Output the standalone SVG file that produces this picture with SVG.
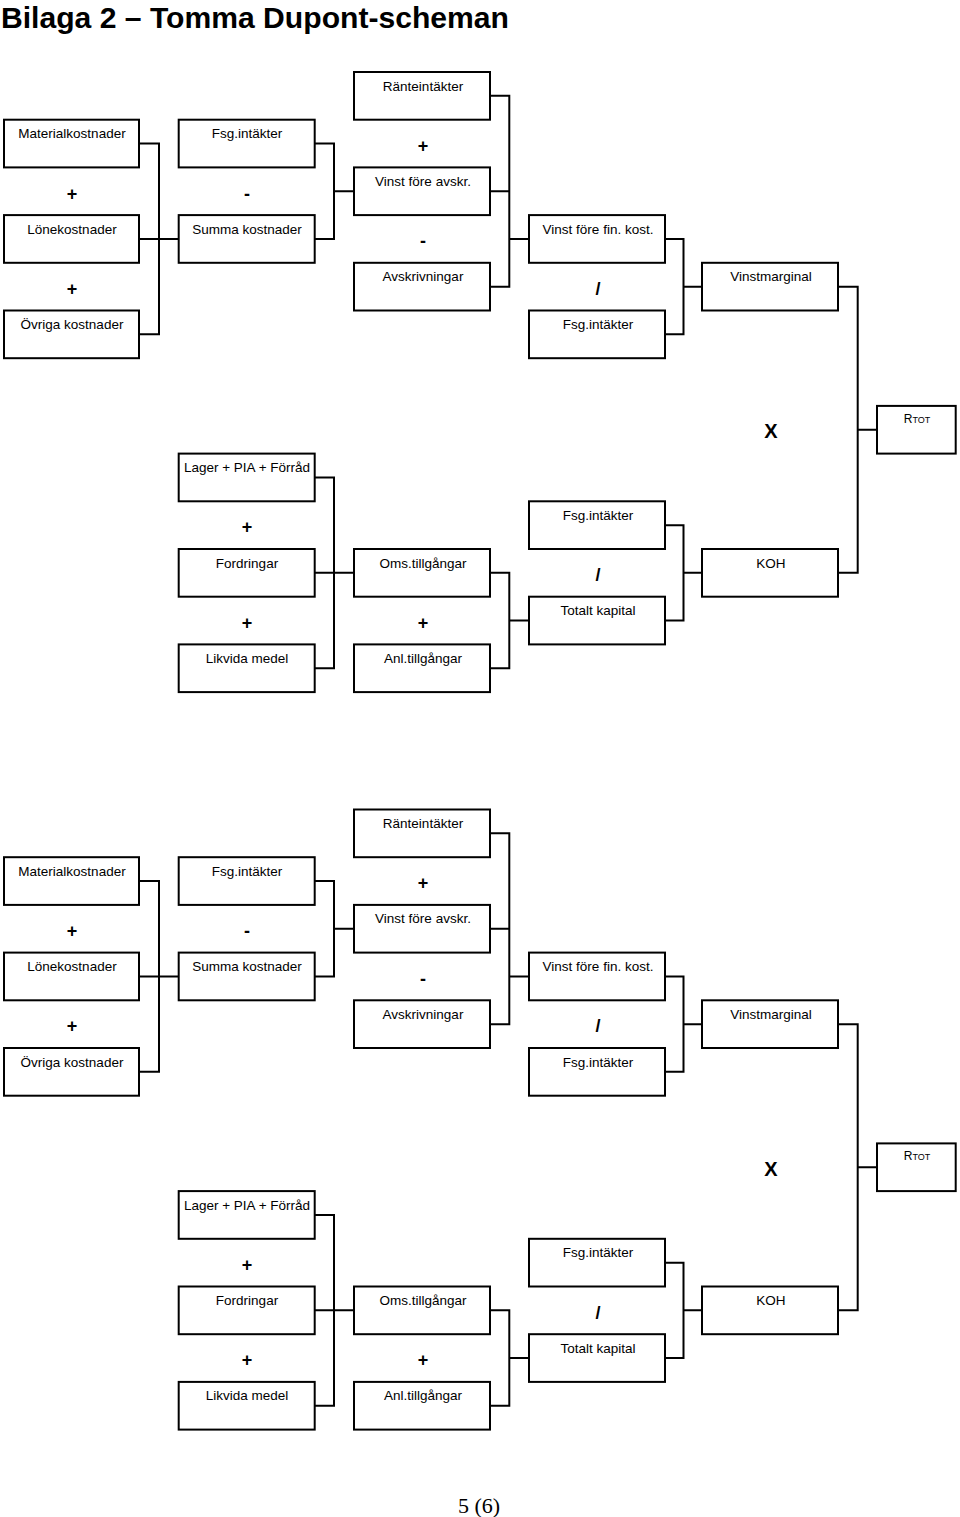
<svg xmlns="http://www.w3.org/2000/svg" width="960" height="1517" viewBox="0 0 960 1517">
<style>
.bx{fill:#fff;stroke:#000;stroke-width:2}
.cn{fill:none;stroke:#000;stroke-width:2}
.lb{font-family:"Liberation Sans",Arial,sans-serif;font-size:13.5px;fill:#000;text-anchor:middle}
.op{font-family:"Liberation Sans",Arial,sans-serif;font-size:18px;font-weight:bold;fill:#000;text-anchor:middle}
.ox{font-family:"Liberation Sans",Arial,sans-serif;font-size:20px;font-weight:bold;fill:#000;text-anchor:middle}
.sm{font-size:9px}
.rb{font-size:12px}
</style>
<rect width="960" height="1517" fill="#fff"/>
<text x="1" y="28" font-family="'Liberation Sans',Arial,sans-serif" font-size="29" font-weight="bold" textLength="508" lengthAdjust="spacingAndGlyphs">Bilaga 2 – Tomma Dupont-scheman</text>

<g id="sec1">
<g id="connectors1">
<path class="cn" d="M139,143.55 H159 V334.35 H139 M139,238.95 H179"/>
<path class="cn" d="M314.7,143.55 H334 V238.95 H314.7 M334,191.25 H354"/>
<path class="cn" d="M490,95.85 H509.3 V286.65 H490 M490,191.25 H509.3 M509.3,238.95 H529"/>
<path class="cn" d="M665,238.95 H683.5 V334.35 H665 M683.5,286.65 H702"/>
<path class="cn" d="M838,286.65 H857.7 V572.85 H838 M857.7,429.75 H877"/>
<path class="cn" d="M314.7,477.45 H334 V668.25 H314.7 M314.7,572.85 H354"/>
<path class="cn" d="M490,572.85 H509.3 V668.25 H490 M509.3,620.55 H529"/>
<path class="cn" d="M665,525.15 H683.5 V620.55 H665 M683.5,572.85 H702"/>
</g>
<g id="materialkostnader"><rect class="bx" x="4" y="119.7" width="135" height="47.7"/><text class="lb" x="72" y="138.2">Materialkostnader</text></g>
<g id="lonekostnader"><rect class="bx" x="4" y="215.1" width="135" height="47.7"/><text class="lb" x="72" y="233.6">Lönekostnader</text></g>
<g id="ovriga"><rect class="bx" x="4" y="310.5" width="135" height="47.7"/><text class="lb" x="72" y="329">Övriga kostnader</text></g>
<g id="fsg1"><rect class="bx" x="178.7" y="119.7" width="136" height="47.7"/><text class="lb" x="247" y="138.2">Fsg.intäkter</text></g>
<g id="summa"><rect class="bx" x="178.7" y="215.1" width="136" height="47.7"/><text class="lb" x="247" y="233.6">Summa kostnader</text></g>
<g id="rante"><rect class="bx" x="354" y="72" width="136" height="47.7"/><text class="lb" x="423" y="90.5">Ränteintäkter</text></g>
<g id="vfa"><rect class="bx" x="354" y="167.4" width="136" height="47.7"/><text class="lb" x="423" y="185.9">Vinst före avskr.</text></g>
<g id="avskr"><rect class="bx" x="354" y="262.8" width="136" height="47.7"/><text class="lb" x="423" y="281.3">Avskrivningar</text></g>
<g id="vffk"><rect class="bx" x="529" y="215.1" width="136" height="47.7"/><text class="lb" x="598" y="233.6">Vinst före fin. kost.</text></g>
<g id="fsg2"><rect class="bx" x="529" y="310.5" width="136" height="47.7"/><text class="lb" x="598" y="329">Fsg.intäkter</text></g>
<g id="vinstmarginal"><rect class="bx" x="702" y="262.8" width="136" height="47.7"/><text class="lb" x="771" y="281.3">Vinstmarginal</text></g>
<g id="rtot"><rect class="bx" x="877" y="405.9" width="78.7" height="47.7"/><text class="lb" x="917" y="422.5"><tspan class="rb">R</tspan><tspan class="sm">TOT</tspan></text></g>
<g id="lager"><rect class="bx" x="178.7" y="453.6" width="136" height="47.7"/><text class="lb" x="247" y="472.1">Lager + PIA + Förråd</text></g>
<g id="fordringar"><rect class="bx" x="178.7" y="549" width="136" height="47.7"/><text class="lb" x="247" y="567.5">Fordringar</text></g>
<g id="likvida"><rect class="bx" x="178.7" y="644.4" width="136" height="47.7"/><text class="lb" x="247" y="662.9">Likvida medel</text></g>
<g id="oms"><rect class="bx" x="354" y="549" width="136" height="47.7"/><text class="lb" x="423" y="567.5">Oms.tillgångar</text></g>
<g id="anl"><rect class="bx" x="354" y="644.4" width="136" height="47.7"/><text class="lb" x="423" y="662.9">Anl.tillgångar</text></g>
<g id="fsg3"><rect class="bx" x="529" y="501.3" width="136" height="47.7"/><text class="lb" x="598" y="519.8">Fsg.intäkter</text></g>
<g id="totalt"><rect class="bx" x="529" y="596.7" width="136" height="47.7"/><text class="lb" x="598" y="615.2">Totalt kapital</text></g>
<g id="koh"><rect class="bx" x="702" y="549" width="136" height="47.7"/><text class="lb" x="771" y="567.5">KOH</text></g>
<g id="ops1">
<text class="op" x="72" y="199.5">+</text>
<text class="op" x="72" y="294.9">+</text>
<text class="op" x="247" y="199.5">-</text>
<text class="op" x="423" y="151.8">+</text>
<text class="op" x="423" y="247.2">-</text>
<text class="op" x="598" y="294.9">/</text>
<text class="ox" x="771" y="438.3">X</text>
<text class="op" x="247" y="533.4">+</text>
<text class="op" x="247" y="628.8">+</text>
<text class="op" x="423" y="628.8">+</text>
<text class="op" x="598" y="581.1">/</text>
</g>
</g>

<g id="sec2" transform="translate(0,737.5)">
<g id="connectors2">
<path class="cn" d="M139,143.55 H159 V334.35 H139 M139,238.95 H179"/>
<path class="cn" d="M314.7,143.55 H334 V238.95 H314.7 M334,191.25 H354"/>
<path class="cn" d="M490,95.85 H509.3 V286.65 H490 M490,191.25 H509.3 M509.3,238.95 H529"/>
<path class="cn" d="M665,238.95 H683.5 V334.35 H665 M683.5,286.65 H702"/>
<path class="cn" d="M838,286.65 H857.7 V572.85 H838 M857.7,429.75 H877"/>
<path class="cn" d="M314.7,477.45 H334 V668.25 H314.7 M314.7,572.85 H354"/>
<path class="cn" d="M490,572.85 H509.3 V668.25 H490 M509.3,620.55 H529"/>
<path class="cn" d="M665,525.15 H683.5 V620.55 H665 M683.5,572.85 H702"/>
</g>
<g id="materialkostnader-2"><rect class="bx" x="4" y="119.7" width="135" height="47.7"/><text class="lb" x="72" y="138.2">Materialkostnader</text></g>
<g id="lonekostnader-2"><rect class="bx" x="4" y="215.1" width="135" height="47.7"/><text class="lb" x="72" y="233.6">Lönekostnader</text></g>
<g id="ovriga-2"><rect class="bx" x="4" y="310.5" width="135" height="47.7"/><text class="lb" x="72" y="329">Övriga kostnader</text></g>
<g id="fsg1-2"><rect class="bx" x="178.7" y="119.7" width="136" height="47.7"/><text class="lb" x="247" y="138.2">Fsg.intäkter</text></g>
<g id="summa-2"><rect class="bx" x="178.7" y="215.1" width="136" height="47.7"/><text class="lb" x="247" y="233.6">Summa kostnader</text></g>
<g id="rante-2"><rect class="bx" x="354" y="72" width="136" height="47.7"/><text class="lb" x="423" y="90.5">Ränteintäkter</text></g>
<g id="vfa-2"><rect class="bx" x="354" y="167.4" width="136" height="47.7"/><text class="lb" x="423" y="185.9">Vinst före avskr.</text></g>
<g id="avskr-2"><rect class="bx" x="354" y="262.8" width="136" height="47.7"/><text class="lb" x="423" y="281.3">Avskrivningar</text></g>
<g id="vffk-2"><rect class="bx" x="529" y="215.1" width="136" height="47.7"/><text class="lb" x="598" y="233.6">Vinst före fin. kost.</text></g>
<g id="fsg2-2"><rect class="bx" x="529" y="310.5" width="136" height="47.7"/><text class="lb" x="598" y="329">Fsg.intäkter</text></g>
<g id="vinstmarginal-2"><rect class="bx" x="702" y="262.8" width="136" height="47.7"/><text class="lb" x="771" y="281.3">Vinstmarginal</text></g>
<g id="rtot-2"><rect class="bx" x="877" y="405.9" width="78.7" height="47.7"/><text class="lb" x="917" y="422.5"><tspan class="rb">R</tspan><tspan class="sm">TOT</tspan></text></g>
<g id="lager-2"><rect class="bx" x="178.7" y="453.6" width="136" height="47.7"/><text class="lb" x="247" y="472.1">Lager + PIA + Förråd</text></g>
<g id="fordringar-2"><rect class="bx" x="178.7" y="549" width="136" height="47.7"/><text class="lb" x="247" y="567.5">Fordringar</text></g>
<g id="likvida-2"><rect class="bx" x="178.7" y="644.4" width="136" height="47.7"/><text class="lb" x="247" y="662.9">Likvida medel</text></g>
<g id="oms-2"><rect class="bx" x="354" y="549" width="136" height="47.7"/><text class="lb" x="423" y="567.5">Oms.tillgångar</text></g>
<g id="anl-2"><rect class="bx" x="354" y="644.4" width="136" height="47.7"/><text class="lb" x="423" y="662.9">Anl.tillgångar</text></g>
<g id="fsg3-2"><rect class="bx" x="529" y="501.3" width="136" height="47.7"/><text class="lb" x="598" y="519.8">Fsg.intäkter</text></g>
<g id="totalt-2"><rect class="bx" x="529" y="596.7" width="136" height="47.7"/><text class="lb" x="598" y="615.2">Totalt kapital</text></g>
<g id="koh-2"><rect class="bx" x="702" y="549" width="136" height="47.7"/><text class="lb" x="771" y="567.5">KOH</text></g>
<g id="ops2">
<text class="op" x="72" y="199.5">+</text>
<text class="op" x="72" y="294.9">+</text>
<text class="op" x="247" y="199.5">-</text>
<text class="op" x="423" y="151.8">+</text>
<text class="op" x="423" y="247.2">-</text>
<text class="op" x="598" y="294.9">/</text>
<text class="ox" x="771" y="438.3">X</text>
<text class="op" x="247" y="533.4">+</text>
<text class="op" x="247" y="628.8">+</text>
<text class="op" x="423" y="628.8">+</text>
<text class="op" x="598" y="581.1">/</text>
</g>
</g>

<text x="479" y="1513" font-family="'Liberation Serif','Times New Roman',serif" font-size="22" text-anchor="middle">5 (6)</text>
</svg>
